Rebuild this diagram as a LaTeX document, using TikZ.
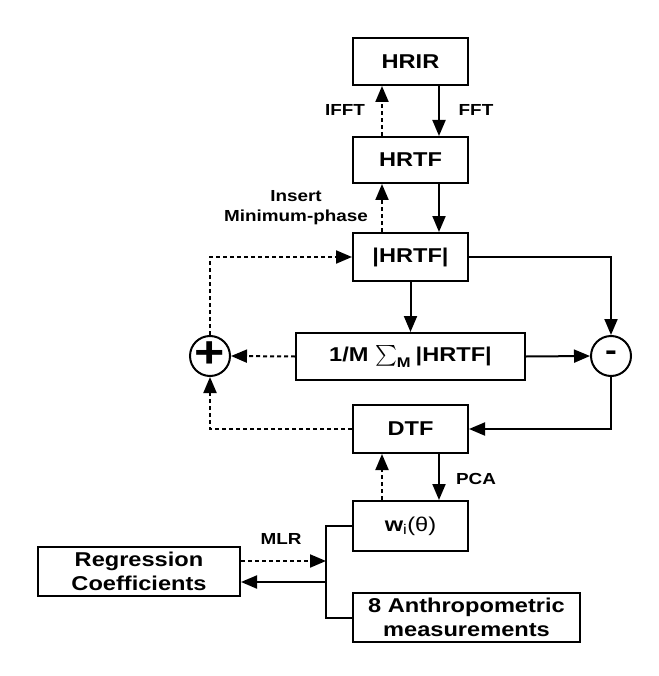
\documentclass[tikz,border=0pt]{standalone}
\usepackage{exscale}
\usepackage{fontspec}
\setmainfont{Liberation Sans}[FakeStretch=1.18]
\usetikzlibrary{arrows.meta, positioning, calc}

\tikzset{
  blockbox/.style={draw, line width=2pt, inner sep=0pt, align=center,
    minimum width=115pt, minimum height=47pt,
    font=\bfseries\fontsize{20}{24}\selectfont},
  sumnode/.style={draw, circle, line width=2pt, minimum size=40pt, inner sep=0pt,
    font=\bfseries\fontsize{30}{30}\selectfont},
  lbl/.style={font=\bfseries\fontsize{16}{20}\selectfont, align=center},
  arr/.style={line width=2pt, -{Triangle[length=16pt,width=13pt]}},
  darr/.style={line width=2pt, dash pattern=on 4pt off 3pt, -{Triangle[length=16pt,width=13pt]}},
  wire/.style={line width=2pt}
}

\begin{document}
\begin{tikzpicture}[x=1pt, y=-1pt]
\useasboundingbox (0,0) rectangle (658,676);

% main chain
\node[blockbox] (hrir) at (410.5,61.5) {HRIR};
\node[blockbox, minimum height=46pt] (hrtf) at (410.5,160) {HRTF};
\node[blockbox, minimum height=48pt] (mag) at (410.5,257) {|HRTF|};
\node[blockbox, minimum width=229pt] (avg) at (410.5,356.5) {1/M $\textstyle\sum_{\mathbf{M}}$ |HRTF|};
\node[blockbox, minimum height=48pt] (dtf) at (410.5,429) {DTF};
\node[blockbox, minimum height=50pt] (wts) at (410.5,526) {w{\mdseries\textsubscript{i}(θ)}};
\node[blockbox, minimum width=227pt, minimum height=49pt] (anthro) at (466.5,617.5) {8 Anthropometric\\measurements};
\node[blockbox, minimum width=202pt, minimum height=49pt] (regr) at (139,571.5) {Regression\\Coefficients};

% adders
\node[sumnode, font=\bfseries\fontsize{44}{44}\selectfont] (plus) at (210,356) {\raisebox{-0.5ex}[0pt][0pt]{+}};
\node[sumnode] (minus) at (611,356) {-};

% HRIR <-> HRTF
\draw[arr] ([xshift=28.5pt]hrir.south) -- ([xshift=28.5pt]hrtf.north);
\draw[darr] ([xshift=-28.5pt]hrtf.north) -- ([xshift=-28.5pt]hrir.south);
\node[lbl] (ifft) at (345,110) {IFFT};
\node[lbl] (fft) at (476,110) {FFT};

% HRTF <-> |HRTF|
\draw[arr] ([xshift=28.5pt]hrtf.south) -- ([xshift=28.5pt]mag.north);
\draw[darr] ([xshift=-28.5pt]mag.north) -- ([xshift=-28.5pt]hrtf.south);
\node[lbl] (minph) at (296,208) {Insert\\Minimum-phase};

% averaging and difference
\draw[arr] (mag.south) -- (avg.north);
\draw[arr] (mag.east) -| (minus.north);
\draw[arr] (avg.east) -- (minus.west);
\draw[arr] (minus.south) |- (dtf.east);

% reconstruction path
\draw[darr] (avg.west) -- (plus.east);
\draw[darr] (dtf.west) -| (plus.south);
\draw[darr] (plus.north) |- (mag.west);

% DTF <-> weights
\draw[arr] ([xshift=28.5pt]dtf.south) -- ([xshift=28.5pt]wts.north);
\draw[darr] ([xshift=-28.5pt]wts.north) -- ([xshift=-28.5pt]dtf.south);
\node[lbl] (pca) at (476,479) {PCA};

% regression
\coordinate (jn) at (326,571.5);
\draw[wire] (wts.west) -| (jn) |- (anthro.west);
\coordinate (mlrout) at ([yshift=10.5pt]regr.east);
\coordinate (mlrback) at ([yshift=-10.5pt]regr.east);
\draw[darr] (mlrout) -- (mlrout -| jn);
\draw[arr] (mlrback -| jn) -- (mlrback);
\node[lbl] (mlr) at (281,539) {MLR};
\end{tikzpicture}
\end{document}
